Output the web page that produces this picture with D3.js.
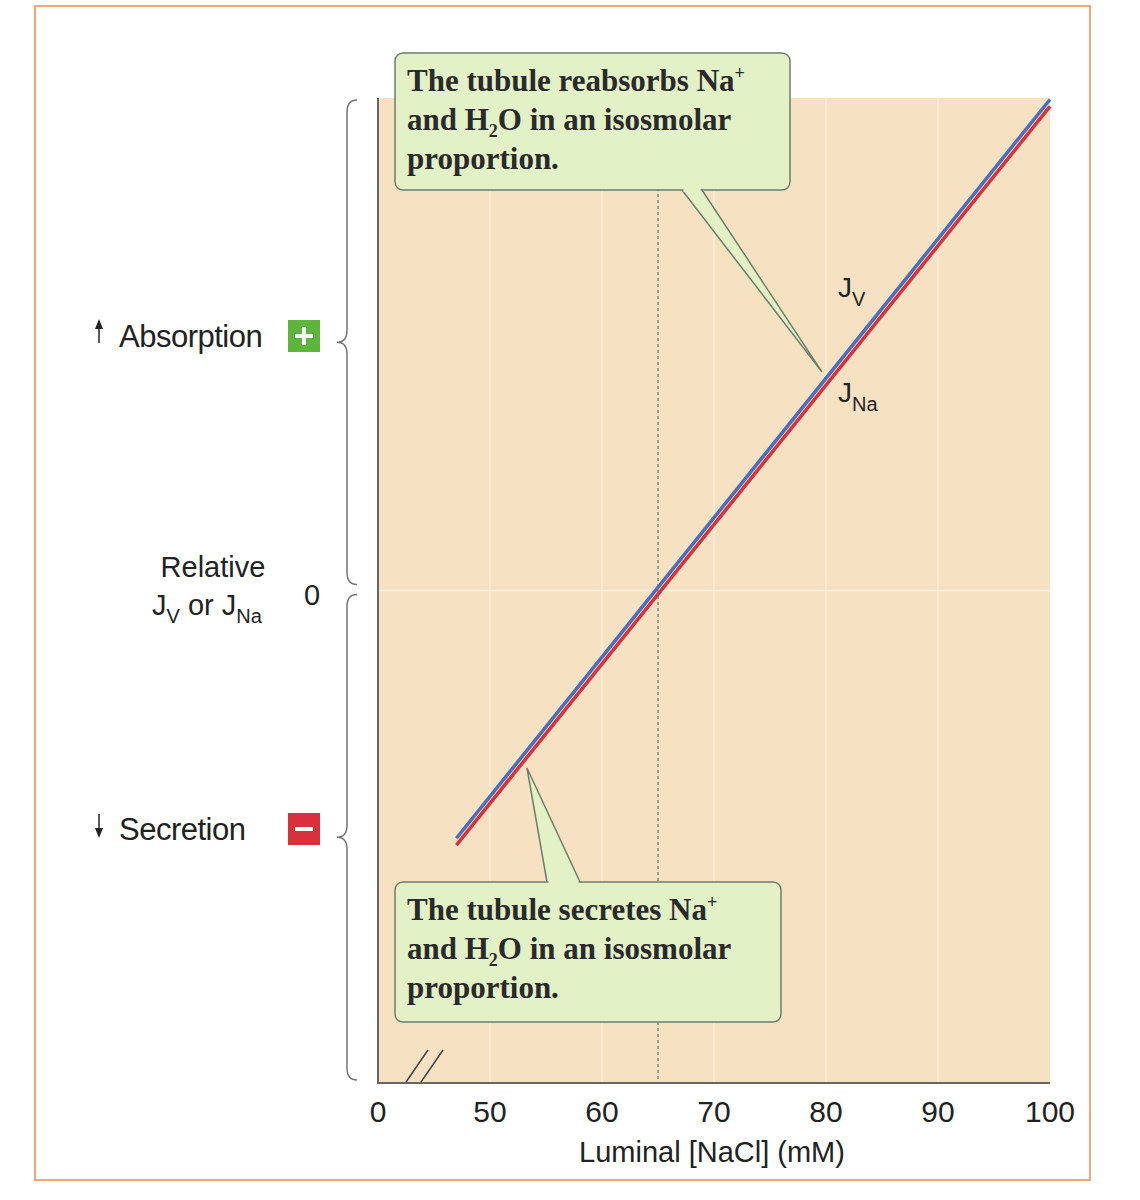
<!DOCTYPE html>
<html><head><meta charset="utf-8">
<script src="https://cdn.jsdelivr.net/npm/d3@7"></script>
<style>
body{margin:0;background:#fff;}
text{font-family:"Liberation Sans",Arial,sans-serif;}
.serif{font-family:"Liberation Serif","Times New Roman",serif;font-size:31px;font-weight:bold;fill:#2a2a2a;}
</style></head><body>
<script>
"use strict";
const nacl = [47, 100];
const jv = [-0.503, 0.997];
const jna = [-0.517, 0.983];
const xTicks = [50, 60, 70, 80, 90, 100];
const isoNaCl = 65;

const svg = d3.select("body").append("svg").attr("width", 1140).attr("height", 1200);
const x = d3.scaleLinear().domain([40, 100]).range([378, 1050]);
const y = d3.scaleLinear().domain([-1, 1]).range([1083, 98]);

svg.append("rect").attr("x", 35).attr("y", 6).attr("width", 1055).attr("height", 1174)
   .attr("fill", "none").attr("stroke", "#f2a778").attr("stroke-width", 2);

svg.append("rect").attr("x", x(40)).attr("y", y(1)).attr("width", x(100) - x(40))
   .attr("height", y(-1) - y(1)).attr("fill", "#f6e2c3");

// gridlines
svg.selectAll(".vg").data(xTicks.slice(0, -1)).enter().append("line")
   .attr("x1", d => x(d)).attr("x2", d => x(d)).attr("y1", y(1)).attr("y2", y(-1))
   .attr("stroke", "#fbf0df").attr("stroke-width", 1.5);
svg.append("line").attr("x1", x(40)).attr("x2", x(100)).attr("y1", y(0)).attr("y2", y(0))
   .attr("stroke", "#fbf0df").attr("stroke-width", 1.5);
svg.append("line").attr("x1", x(isoNaCl)).attr("x2", x(isoNaCl)).attr("y1", y(1)).attr("y2", y(-1))
   .attr("stroke", "#555").attr("stroke-dasharray", "3,3");

// axes
svg.append("path").attr("d", `M${x(40)},${y(1)}V${y(-1)}H${x(100)}`)
   .attr("fill", "none").attr("stroke", "#666").attr("stroke-width", 2);
svg.append("path").attr("d", `M${x(40) + 28},1082l22,-32M${x(40) + 43},1082l22,-32`)
   .attr("stroke", "#444").attr("stroke-width", 1.5);
svg.selectAll(".xt").data(xTicks).enter().append("text")
   .attr("x", d => x(d)).attr("y", 1122).attr("text-anchor", "middle")
   .attr("font-size", 30).attr("fill", "#222").text(d => d);
svg.append("text").attr("x", x(40)).attr("y", 1122).attr("text-anchor", "middle")
   .attr("font-size", 30).attr("fill", "#222").text("0");
svg.append("text").attr("x", 712).attr("y", 1162).attr("text-anchor", "middle")
   .attr("font-size", 29).attr("fill", "#222").text("Luminal [NaCl] (mM)");

// lines
const line = d3.line().x(d => x(d[0])).y(d => y(d[1]));
svg.append("path").attr("d", line(nacl.map((n, i) => [n, jna[i]])))
   .attr("stroke", "#d8323c").attr("stroke-width", 3.5).attr("fill", "none");
svg.append("path").attr("d", line(nacl.map((n, i) => [n, jv[i]])))
   .attr("stroke", "#4a6fc0").attr("stroke-width", 3.5).attr("fill", "none");

const sub = (g, xx, yy, main, s) => {
   const t = g.append("text").attr("x", xx).attr("y", yy).attr("font-size", 28).attr("fill", "#222");
   t.append("tspan").text(main);
   t.append("tspan").attr("font-size", 20).attr("dy", 9).text(s);
};
sub(svg, 838, 297, "J", "V");
sub(svg, 838, 402, "J", "Na");

// braces
function brace(x0, ya, yb) {
   const m = (ya + yb) / 2, w = 10;
   return `M${x0 + w},${ya} Q${x0},${ya} ${x0},${ya + 12} L${x0},${m - 12} Q${x0},${m} ${x0 - w},${m}` +
      ` Q${x0},${m} ${x0},${m + 12} L${x0},${yb - 12} Q${x0},${yb} ${x0 + w},${yb}`;
}
svg.append("path").attr("d", brace(347, y(1) + 2, y(0) - 6)).attr("fill", "none").attr("stroke", "#777").attr("stroke-width", 1.5);
svg.append("path").attr("d", brace(347, y(0) + 4, y(-1) - 3)).attr("fill", "none").attr("stroke", "#777").attr("stroke-width", 1.5);

// left labels
const lab = (yy, arrowUp, txt, col, sign) => {
   const ax = 99;
   svg.append("line").attr("x1", ax).attr("x2", ax).attr("y1", yy - 26).attr("y2", yy - 4)
      .attr("stroke", "#222").attr("stroke-width", 1.5);
   svg.append("path").attr("d", arrowUp ? `M${ax - 4},${yy - 18}L${ax},${yy - 28}L${ax + 4},${yy - 18}Z`
      : `M${ax - 4},${yy - 12}L${ax},${yy - 2}L${ax + 4},${yy - 12}Z`).attr("fill", "#222");
   svg.append("text").attr("x", 119).attr("y", yy).attr("font-size", 31).attr("fill", "#222")
      .attr("letter-spacing", -0.5).text(txt);
   svg.append("rect").attr("x", 288).attr("y", yy - 27).attr("width", 32).attr("height", 32).attr("fill", col);
   svg.append("path").attr("d", sign === "+" ? `M${304},${yy - 20}v18M${295},${yy - 11}h18` : `M${295},${yy - 11}h18`)
      .attr("stroke", "#fff").attr("stroke-width", 4);
};
lab(347, true, "Absorption", "#5cb43c", "+");
lab(840, false, "Secretion", "#d9303c", "-");
svg.append("text").attr("x", 213).attr("y", 577).attr("text-anchor", "middle").attr("font-size", 29).attr("fill", "#222").text("Relative");
{
   const t = svg.append("text").attr("x", 152).attr("y", 615).attr("font-size", 29).attr("fill", "#222");
   t.append("tspan").text("J");
   t.append("tspan").attr("font-size", 20).attr("dy", 8).text("V");
   t.append("tspan").attr("dy", -8).text(" or J");
   t.append("tspan").attr("font-size", 20).attr("dy", 8).text("Na");
}
svg.append("text").attr("x", 312).attr("y", 605).attr("text-anchor", "middle").attr("font-size", 29).attr("fill", "#222").text("0");

// callouts
function callout(bx, by, bw, bh, tip, base, lines) {
   svg.append("path").attr("d", `M${base[0]},${base[1]}L${tip[0]},${tip[1]}L${base[2]},${base[1]}`)
      .attr("fill", "#e3f1c6").attr("stroke", "#6d7f6a").attr("stroke-width", 1.5);
   svg.append("rect").attr("x", bx).attr("y", by).attr("width", bw).attr("height", bh).attr("rx", 8)
      .attr("fill", "#e3f1c6").attr("stroke", "#6d7f6a").attr("stroke-width", 1.5);
   svg.append("path").attr("d", `M${base[0] + 1.5},${base[1]}L${base[2] - 1.5},${base[1]}`)
      .attr("stroke", "#e3f1c6").attr("stroke-width", 4);
   lines.forEach((l, i) => {
      const t = svg.append("text").attr("class", "serif").attr("x", bx + 12).attr("y", by + 38 + i * 39);
      l.forEach(seg => {
         const s = t.append("tspan").text(seg.t);
         if (seg.sup) s.attr("font-size", 18).attr("dy", -12);
         if (seg.sub) s.attr("font-size", 18).attr("dy", 7);
         if (seg.back) s.attr("dy", seg.back);
      });
   });
}
callout(395, 53, 395, 137, [822, 372], [682, 190, 702],
   [[{t: "The tubule reabsorbs Na"}, {t: "+", sup: true}],
    [{t: "and H"}, {t: "2", sub: true}, {t: "O in an isosmolar", back: -7}],
    [{t: "proportion."}]]);
callout(395, 882, 386, 140, [527, 768], [547, 882, 580],
   [[{t: "The tubule secretes Na"}, {t: "+", sup: true}],
    [{t: "and H"}, {t: "2", sub: true}, {t: "O in an isosmolar", back: -7}],
    [{t: "proportion."}]]);
</script>
</body></html>
